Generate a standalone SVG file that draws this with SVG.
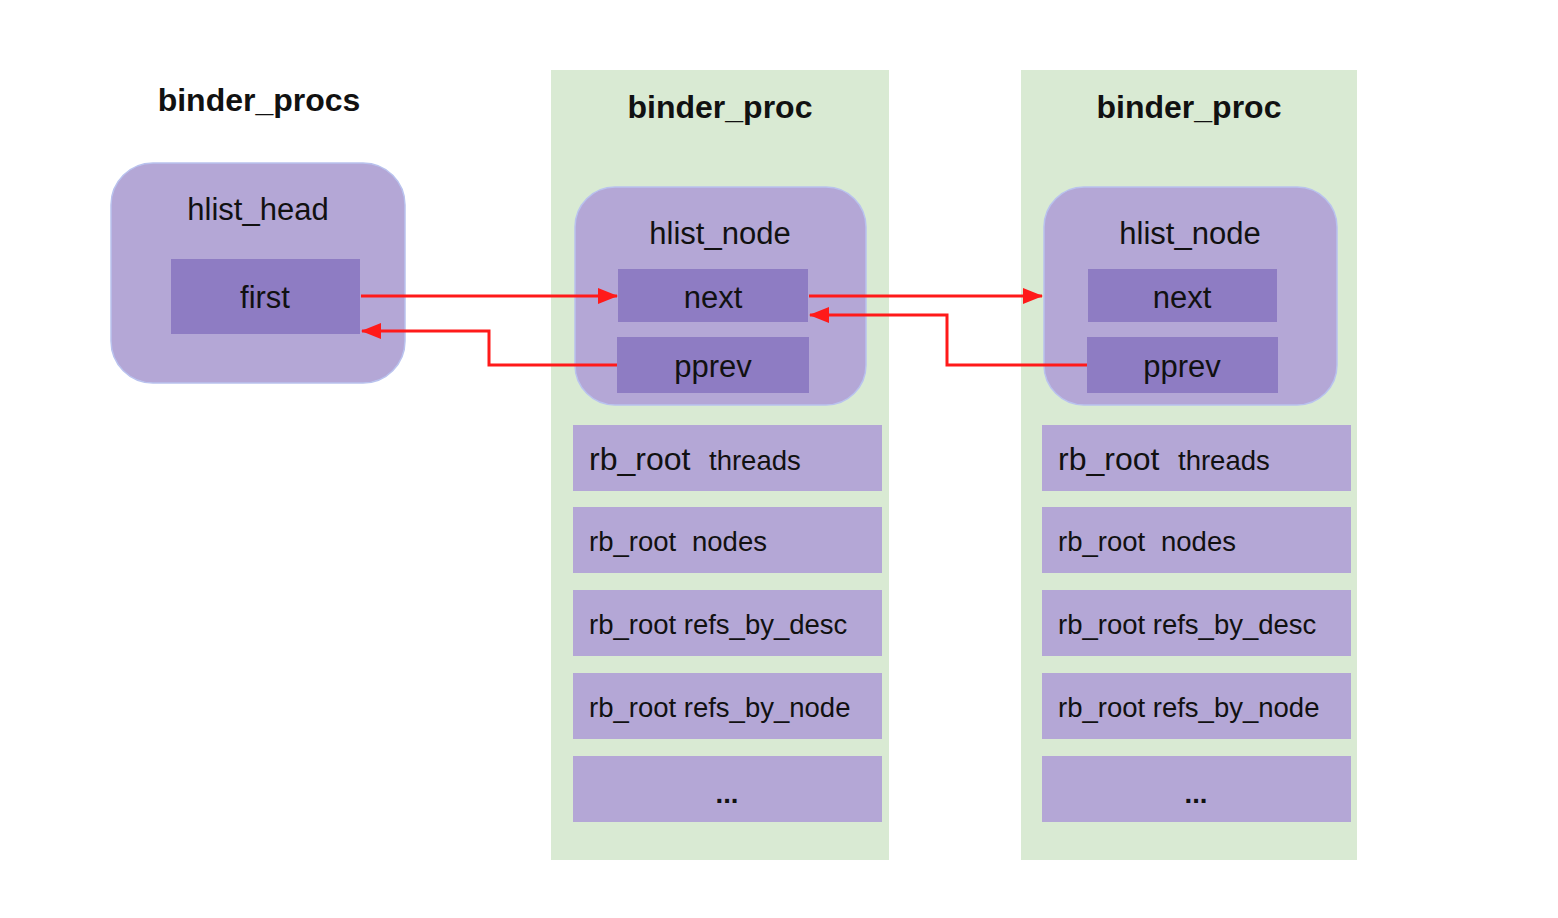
<svg xmlns="http://www.w3.org/2000/svg" width="1558" height="918" viewBox="0 0 1558 918">
<style>
text{font-family:"Liberation Sans",Arial,sans-serif;fill:#111}
.title{font-weight:bold;font-size:32px;text-anchor:middle}
.lbl{font-size:31px;text-anchor:middle}
.row{font-size:27.5px}
.panel{fill:#d9ead3}
.outer{fill:#b4a7d6;stroke:#b9c2ee;stroke-width:1.5}
.inner{fill:#8e7cc3}
.rowbox{fill:#b4a7d6}
.conn{fill:none;stroke:#ff1a1a;stroke-width:3;marker-end:url(#ah)}
</style>
<defs>
<marker id="ah" viewBox="0 0 20 16" refX="19" refY="8" markerWidth="20" markerHeight="16" markerUnits="userSpaceOnUse" orient="auto">
<path d="M0,0 L20,8 L0,16 Z" fill="#ff1a1a"/>
</marker>
</defs>
<rect width="1558" height="918" fill="#fff"/>

<g id="binder_procs">
<text class="title" x="259" y="111">binder_procs</text>
<rect class="outer" x="111" y="163" width="294" height="220" rx="42"/>
<text class="lbl" x="258" y="220">hlist_head</text>
<rect class="inner" x="171" y="259" width="189" height="75"/>
<text class="lbl" x="265" y="308">first</text>
</g>

<g id="binder_proc_1">
<rect class="panel" x="551" y="70" width="338" height="790"/>
<text class="title" x="720" y="118">binder_proc</text>
<rect class="outer" x="575" y="187" width="291" height="218" rx="40"/>
<text class="lbl" x="720" y="244">hlist_node</text>
<rect class="inner" x="618" y="269" width="190" height="53"/>
<text class="lbl" x="713" y="308">next</text>
<rect class="inner" x="617" y="337" width="192" height="56"/>
<text class="lbl" x="713" y="377">pprev</text>
<rect class="rowbox" x="573" y="425" width="309" height="66"/>
<text class="row" x="589" y="470"><tspan font-size="32">rb_root</tspan><tspan x="709">threads</tspan></text>
<rect class="rowbox" x="573" y="507" width="309" height="66"/>
<text class="row" x="589" y="551">rb_root<tspan x="692">nodes</tspan></text>
<rect class="rowbox" x="573" y="590" width="309" height="66"/>
<text class="row" x="589" y="634">rb_root refs_by_desc</text>
<rect class="rowbox" x="573" y="673" width="309" height="66"/>
<text class="row" x="589" y="717">rb_root refs_by_node</text>
<rect class="rowbox" x="573" y="756" width="309" height="66"/>
<text class="row" x="727" y="803" text-anchor="middle" font-weight="bold">...</text>
</g>

<g id="binder_proc_2">
<rect class="panel" x="1021" y="70" width="336" height="790"/>
<text class="title" x="1189" y="118">binder_proc</text>
<rect class="outer" x="1044" y="187" width="293" height="218" rx="40"/>
<text class="lbl" x="1190" y="244">hlist_node</text>
<rect class="inner" x="1088" y="269" width="189" height="53"/>
<text class="lbl" x="1182" y="308">next</text>
<rect class="inner" x="1087" y="337" width="191" height="56"/>
<text class="lbl" x="1182" y="377">pprev</text>
<rect class="rowbox" x="1042" y="425" width="309" height="66"/>
<text class="row" x="1058" y="470"><tspan font-size="32">rb_root</tspan><tspan x="1178">threads</tspan></text>
<rect class="rowbox" x="1042" y="507" width="309" height="66"/>
<text class="row" x="1058" y="551">rb_root<tspan x="1161">nodes</tspan></text>
<rect class="rowbox" x="1042" y="590" width="309" height="66"/>
<text class="row" x="1058" y="634">rb_root refs_by_desc</text>
<rect class="rowbox" x="1042" y="673" width="309" height="66"/>
<text class="row" x="1058" y="717">rb_root refs_by_node</text>
<rect class="rowbox" x="1042" y="756" width="309" height="66"/>
<text class="row" x="1196" y="803" text-anchor="middle" font-weight="bold">...</text>
</g>

<g id="connectors">
<path class="conn" d="M361,296 L617,296"/>
<path class="conn" d="M617,365 L489,365 L489,331 L362,331"/>
<path class="conn" d="M809,296 L1042,296"/>
<path class="conn" d="M1087,365 L947,365 L947,315 L810,315"/>
</g>
</svg>
